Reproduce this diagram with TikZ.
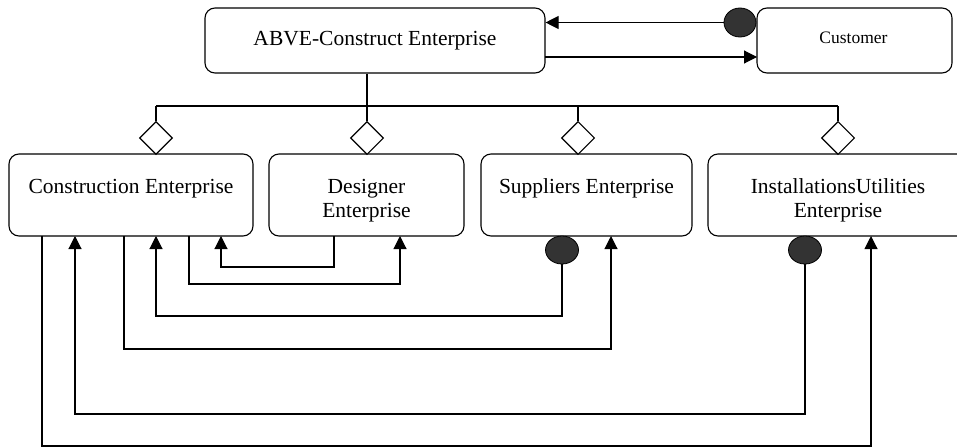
\documentclass[tikz,border=0pt]{standalone}
\usepackage{fontspec}
\setmainfont{Liberation Serif}
\usetikzlibrary{arrows.meta,shapes.geometric}
\tikzset{
  box/.style={draw, rounded corners=10pt, line width=1.1pt, inner sep=0pt},
  lbl/.style={inner sep=0pt, align=center, font=\fontsize{21.5}{24}\selectfont},
  slbl/.style={inner sep=0pt, font=\fontsize{17.5}{20}\selectfont},
  conn/.style={line width=1.1pt},
  arr/.style={line width=1.1pt, -{Triangle[length=13pt,width=13pt]}},
  agg/.style={draw, diamond, fill=white, line width=1.1pt, minimum width=33pt, minimum height=33pt, inner sep=0pt, aspect=1},
  dot/.style={draw, ellipse, fill=black!80, line width=0.8pt, inner sep=0pt},
}
\begin{document}
\begin{tikzpicture}[x=1pt,y=-1pt]
\useasboundingbox (0,0) rectangle (957,447);
\clip (0,0) rectangle (957,447);
% boxes
\node[box, minimum width=340pt, minimum height=65pt] (abve) at (375,40.5) {};
\node[box, minimum width=195pt, minimum height=65pt] (cust) at (854.5,40.5) {};
\node[box, minimum width=244pt, minimum height=82pt] (con) at (131,195) {};
\node[box, minimum width=195pt, minimum height=82pt] (des) at (366.5,195) {};
\node[box, minimum width=211pt, minimum height=82pt] (sup) at (586.5,195) {};
\node[box, minimum width=260pt, minimum height=82pt] (ins) at (838,195) {};
% texts
\node[lbl] (abveT) at (abve.center) {ABVE-Construct Enterprise};
\node[slbl, anchor=base] (custT) at (853.5,43) {Customer};
\node[lbl, anchor=base] (conT) at (131,193) {Construction Enterprise};
\node[lbl, anchor=base] (desT1) at (366.5,193) {Designer};
\node[lbl, anchor=base] (desT2) at (366.5,217) {Enterprise};
\node[lbl, anchor=base] (supT) at (586.5,193) {Suppliers Enterprise};
\node[lbl, anchor=base] (insT1) at (838,193) {InstallationsUtilities};
\node[lbl, anchor=base] (insT2) at (838,217) {Enterprise};
% aggregation diamonds
\node[agg] (d1) at (156,138) {};
\node[agg] (d2) at (367,138) {};
\node[agg] (d3) at (578,138) {};
\node[agg] (d4) at (838,138) {};
\coordinate (b0) at (367,106);
\coordinate (b1) at (156,106);
\coordinate (b3) at (578,106);
\coordinate (b4) at (838,106);
\draw[conn] (abve.south -| b0) -- (b0);
\draw[conn] (b1) -- (b4);
\draw[conn] (b1) -- (d1.north);
\draw[conn] (b0) -- (d2.north);
\draw[conn] (b3) -- (d3.north);
\draw[conn] (b4) -- (d4.north);
% filled ends
\node[dot, minimum width=32pt, minimum height=29pt] (ce) at (740,22.5) {};
\node[dot, minimum width=33pt, minimum height=28pt] (se) at (562,250) {};
\node[dot, minimum width=33pt, minimum height=28pt] (ie) at (805,250) {};
% customer links
\coordinate (ao) at (545,57);
\coordinate (ci) at (757,57);
\draw[arr] (ce.west) -- (abve.east |- ce.west);
\draw[arr] (ao) -- (ci);
% lower links
\draw[arr] (189,236) -- (189,284) -- (400,284) -- (400,236);
\draw[arr] (334,236) -- (334,267) -- (221,267) -- (221,236);
\draw[arr] (se.south) -- (562,316) -- (156,316) -- (156,236);
\draw[arr] (124,236) -- (124,349) -- (611,349) -- (611,236);
\draw[arr] (ie.south) -- (805,414) -- (75,414) -- (75,236);
\draw[arr] (42,236) -- (42,446) -- (871,446) -- (871,236);
\end{tikzpicture}
\end{document}
